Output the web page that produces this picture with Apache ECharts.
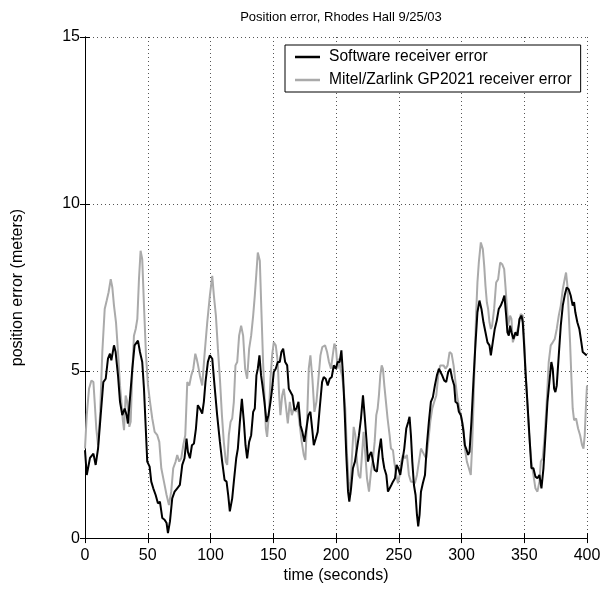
<!DOCTYPE html>
<html><head><meta charset="utf-8">
<script src="https://cdn.jsdelivr.net/npm/echarts@6/dist/echarts.min.js"></script>
<style>html,body{margin:0;padding:0;background:#fff}#c{width:612px;height:589px}</style>
</head><body><div id="c"></div>
<script>
const titleText = 'Position error, Rhodes Hall 9/25/03';
const xName = 'time (seconds)';
const yName = 'position error (meters)';
const seriesNames = ['Software receiver error', 'Mitel/Zarlink GP2021 receiver error'];
const xTicks = [0, 50, 100, 150, 200, 250, 300, 350, 400];
const yTicks = [0, 5, 10, 15];

const softT = [0,1.4,4,6.7,8.5,10.4,12.5,14.6,16.5,18.3,19.9,21,23.1,24.4,26.3,27.9,29.7,31.6,33.2,34.2,35.8,37.7,39.5,42.2,43.8,45.6,47,48.3,49.6,51.5,52.8,54.4,56.3,58.1,59.7,61.6,63.4,65,66.1,67.7,69.5,71.4,73.5,75.6,77.5,79.3,80.9,82,83.6,85.2,86.8,88.4,89.9,91.5,
93.4,94.7,96,97.9,99.5,101.4,103.2,105.3,107.5,109.3,111.2,112.8,114.1,115.4,117.3,118.6,120.5,121.8,123.4,125,126.6,127.9,129.2,130.8,132.4,134,135.3,136.6,137.7,139,140.3,141.4,143,144.6,146.2,147.8,149.1,150.4,152,153.6,155.2,156.5,157.9,159.5,161.1,162.4,163.7,165.3,166.9,168.5,170.1,171.7,173.2,174.8,176.4,178,179.6,181,182.3,183.9,185.4,187,
188.9,190.2,191.8,193.4,195,196.6,198.2,199.8,201.3,202.9,204.3,205.6,206.9,208.2,209.6,210.6,212,213.5,215.1,216.7,218.3,219.9,221.5,222.8,224.2,225.5,226.8,228.1,229.5,230.8,232.6,234.2,235.8,237.2,238.5,240.1,241.4,242.7,244.1,245.4,247,248.3,249.6,251.2,252.8,254.4,256,257.6,258.6,259.7,260.8,262.1,263.4,264.5,265.5,266.6,267.7,269.2,270.9,272.4,274,275.6,277.2,278.8,280.4,282,
284.6,286.2,287.8,289.4,291,292.6,294.2,295.2,296.8,297.9,299.5,300.5,301.6,302.7,303.7,305.3,306.4,307.9,309.6,311.2,312.7,314.3,315.9,317.5,319.1,320.7,322.3,323.4,324.9,326.5,328.1,329.7,331.3,332.9,334.2,335.6,336.6,337.7,338.7,339.8,341.4,343,344.6,346.2,347.8,348.8,349.9,351,352.5,354.1,355.7,357.3,358.9,360.5,362.1,363.7,365.3,366.9,368.5,370,371.6,372.7,373.8,374.8,375.9,377.5,379.1,380.7,382.2,383.8,385.4,387,388.6,389.7,390.7,392.3,393.9,395.5,396.6,398.2,399.8];
const softV = [2.63,1.89,2.4,2.53,2.19,2.68,3.68,4.67,4.77,5.37,5.52,5.32,5.77,5.57,4.87,4.08,3.68,3.88,3.68,3.43,4.17,5.07,5.77,5.91,5.57,5.27,4.47,3.38,2.29,2.14,1.69,1.49,1.29,1.04,1.09,0.6,0.55,0.45,0.15,0.5,1.19,1.39,1.49,1.59,2.19,2.39,2.98,2.58,2.39,2.78,2.83,3.28,3.98,3.88,
3.73,4.08,4.67,5.27,5.47,5.37,4.57,3.68,2.88,2.29,1.74,1.69,1.29,0.8,1.19,1.69,2.39,2.68,3.48,4.17,3.48,2.78,2.39,2.88,3.08,3.78,3.88,4.87,5.07,5.47,4.87,4.57,4.08,3.48,3.68,4.08,4.47,4.97,5.07,5.27,5.27,5.57,5.67,5.27,5.17,4.47,4.47,4.27,3.83,3.88,4.08,3.38,3.18,2.88,3.28,3.68,3.78,3.28,2.78,2.98,3.18,3.88,
4.67,4.82,4.77,4.57,4.77,4.82,5.17,5.07,5.27,5.27,5.62,4.87,3.78,2.49,1.39,1.09,1.49,2.09,2.29,2.68,3.08,3.58,4.27,3.68,2.98,2.29,2.49,2.58,2.29,2.04,1.99,2.58,2.98,2.39,2.09,1.89,1.39,1.34,1.59,1.69,1.79,2.19,2.09,1.89,2.29,2.68,3.28,3.48,3.63,3.08,2.29,1.59,1.29,0.7,0.35,0.7,1.39,1.64,1.89,2.78,3.48,4.08,4.22,4.57,4.87,5.07,
4.87,4.72,4.67,4.97,5.07,4.77,4.57,4.08,4.03,3.78,3.68,3.48,3.18,2.78,2.68,2.49,2.58,3.48,4.77,5.86,6.76,7.11,6.86,6.46,6.16,5.86,5.77,5.47,5.86,6.26,6.51,6.86,6.96,7.11,7.26,6.66,6.16,6.06,6.36,6.16,5.96,6.16,6.06,6.56,6.66,6.46,5.77,4.97,4.08,3.08,2.09,2.09,1.84,1.79,1.89,1.49,2.09,3.08,4.08,4.67,5.27,5.07,4.47,4.37,4.57,5.47,6.36,6.96,7.26,7.5,7.45,7.26,6.96,7.06,6.76,6.46,6.26,5.86,5.57,5.52,5.47];

const gpT = [0,1.4,3.2,5.1,6.7,7.7,9,10.4,12,13.8,15.7,17.3,18.8,20.5,21.8,23.1,24.7,26.3,27.9,29,30,31.1,32.4,33.7,35.3,36.4,37.7,39,40.4,41.7,43,44.3,45.6,47,48.6,50.2,51.8,53.6,55.5,57.6,59.2,60.8,62.9,65,66.9,68.7,70.3,72.2,73.5,75.1,76.7,78.3,79.9,81.5,83.1,84.7,86.3,87.9,89,90.1,91.5,
93.4,95.2,97.4,99.5,101.4,102.7,104.3,105.9,107.5,109.1,110.6,112.2,113.3,114.6,116,117.3,118.6,119.9,121.3,122.8,124.4,126,127.6,129.2,130.8,132.4,134,135.3,136.6,137.7,139.3,140.6,141.9,143,144.1,145.1,146.5,147.8,149.1,150.4,152,153.6,154.7,155.7,157.1,158.4,160,161.6,163.2,164.8,166.4,168,169.5,171.1,172.7,174.3,175.6,177,178.3,179.6,181.2,182.8,184.4,186,
187.6,189.1,191.3,192.9,194.4,196,197.4,198.7,200,201.3,202.4,203.5,204.8,206.1,207.4,208.8,210.1,211.4,212.5,214.1,215.4,216.7,218,219.4,220.7,222,223.4,224.7,226.3,227.9,229.5,230.8,232.1,233.2,234.2,235.3,236.4,237.4,238.5,239.8,241.1,242.7,243.8,245.4,246.4,248,249.4,250.7,252,253.3,254.9,256.5,258.1,259.7,261.3,262.9,264.5,266.1,267.7,268.7,270.3,271.9,273.5,275.1,276.7,278.3,279.9,281.5,
283,285.7,287.3,288.9,290.5,292.1,293.7,295.2,296.8,298.4,300,301.6,302.7,304.3,305.9,307.4,308.5,309.6,310.6,311.7,312.7,313.8,315.4,317,318.1,319.1,320.2,321.2,322.3,323.4,324.4,326,327.6,329.2,330.8,332.4,334,335,336.1,337.2,338.7,339.8,340.9,342.5,344,345.6,347.2,348.8,349.9,351,352.5,354.1,355.7,357.3,358.9,360.5,362.1,363.2,364.7,366.3,367.9,369.5,371.1,372.7,374.3,375.9,377.5,379.1,380.7,382.2,383.3,384.4,385.4,386.5,387.6,388.6,389.7,391.3,392.9,394.5,396.1,397.2,398.2,399.3,400];
const gpV = [2.68,3.68,4.47,4.72,4.67,4.08,3.28,2.78,3.68,5.57,6.86,7.11,7.36,7.75,7.5,6.96,6.46,5.57,4.57,4.08,3.58,3.23,4.27,4.08,3.33,3.48,4.97,6.06,6.26,6.56,7.75,8.6,8.35,6.96,5.47,4.57,4.08,3.58,3.18,3.08,2.88,2.09,1.69,1.29,0.99,1.39,2.09,2.29,2.49,2.29,2.39,2.78,3.08,4.67,4.57,4.87,5.07,5.52,5.37,5.17,4.87,
4.57,5.47,6.46,7.26,7.85,7.26,6.66,5.67,4.77,3.68,2.88,2.29,2.19,3.08,3.48,3.58,4.08,5.17,5.27,6.06,6.36,6.06,5.07,4.77,5.67,6.06,6.66,7.26,7.95,8.55,8.3,6.76,5.27,4.27,3.28,3.03,3.68,4.77,5.47,5.86,5.77,5.27,4.27,3.68,4.27,4.47,3.98,3.43,4.08,3.68,3.88,3.78,3.88,3.38,2.88,2.49,2.34,3.58,5.07,5.47,4.77,3.78,4.08,4.77,
5.47,5.72,5.77,5.57,5.27,5.07,5.47,5.82,5.67,5.07,5.37,5.07,4.87,4.47,3.88,2.49,1.69,1.29,2.29,3.33,3.08,2.29,1.89,1.79,2.49,3.18,2.49,1.79,1.39,1.99,2.39,2.88,3.68,3.88,4.27,4.87,5.17,5.07,4.57,4.08,3.58,3.08,2.68,2.63,2.29,1.89,1.64,1.89,2.29,2.49,2.39,2.49,1.89,1.69,1.69,1.64,1.89,2.29,2.68,2.73,2.49,2.39,2.88,3.48,3.88,4.08,4.27,4.87,
5.17,5.17,5.07,5.17,5.57,5.52,5.17,4.67,4.17,3.88,3.58,3.28,2.68,2.29,2.09,1.89,2.78,4.08,5.47,6.76,7.65,8.25,8.85,8.65,8.15,7.55,7.06,6.86,6.46,6.26,6.36,6.86,7.65,7.75,8.25,8.2,8.05,7.55,6.96,6.36,6.66,6.56,5.86,6.06,6.16,6.36,6.71,6.66,5.96,5.07,3.98,2.98,2.29,1.89,1.49,1.39,1.69,2.29,2.39,3.08,4.08,5.27,5.77,5.86,5.96,6.26,6.66,6.96,7.45,7.75,7.95,7.55,6.76,5.86,4.77,3.88,3.53,3.58,3.28,3.08,2.78,2.68,3.08,4.08,4.57];

const pairs = (t, v) => t.map((x, i) => [x, v[i]]);
const FONT = 'Liberation Sans, Arial, sans-serif';
const chart = echarts.init(document.getElementById('c'), null, {renderer: 'canvas'});
const gridLine = {show: true, lineStyle: {color: '#555', type: [1, 3], width: 1}};
const axLine = {show: true, lineStyle: {color: '#000', width: 1}};
const tick = {show: true, inside: true, length: 5, lineStyle: {color: '#000'}};
chart.setOption({
  animation: false,
  backgroundColor: '#fff',
  title: {text: titleText, left: 336, top: 6, textAlign: 'center',
    textStyle: {fontFamily: FONT, fontSize: 13, fontWeight: 'normal', color: '#000'}},
  legend: {
    data: seriesNames, orient: 'vertical', left: 285, top: 45,
    backgroundColor: '#fff', borderColor: '#000', borderWidth: 1, borderRadius: 0,
    padding: [4, 9, 4, 10], itemGap: 7, itemWidth: 25, itemHeight: 2.5,
    icon: 'rect',
    textStyle: {fontFamily: FONT, fontSize: 15.6, color: '#000', padding: [0, 0, 0, 4]}
  },
  grid: {left: 85, right: 25, top: 37, bottom: 48, containLabel: false},
  xAxis: [{
    type: 'value', min: 0, max: 400, interval: 50,
    name: xName, nameLocation: 'middle', nameGap: 28,
    nameTextStyle: {fontFamily: FONT, fontSize: 16, color: '#000'},
    axisLine: axLine, axisTick: tick,
    axisLabel: {fontFamily: FONT, fontSize: 16, color: '#000', margin: 9, customValues: xTicks},
    splitLine: gridLine
  }, {
    type: 'value', min: 0, max: 400, interval: 50, position: 'top',
    axisLine: axLine, axisTick: tick, axisLabel: {show: false}, splitLine: {show: false}
  }],
  yAxis: [{
    type: 'value', min: 0, max: 15, interval: 5,
    name: yName, nameLocation: 'middle', nameGap: 59, nameRotate: 90,
    nameTextStyle: {fontFamily: FONT, fontSize: 16, color: '#000'},
    axisLine: axLine, axisTick: tick,
    axisLabel: {fontFamily: FONT, fontSize: 16, color: '#000', margin: 5, customValues: yTicks},
    splitLine: gridLine
  }, {
    type: 'value', min: 0, max: 15, interval: 5, position: 'right',
    axisLine: axLine, axisTick: tick, axisLabel: {show: false}, splitLine: {show: false}
  }],
  series: [
    {name: seriesNames[1], type: 'line', data: pairs(gpT, gpV), showSymbol: false,
      lineStyle: {color: '#aaaaaa', width: 2}, itemStyle: {color: '#aaaaaa'}, z: 2},
    {name: seriesNames[0], type: 'line', data: pairs(softT, softV), showSymbol: false,
      lineStyle: {color: '#000', width: 2}, itemStyle: {color: '#000'}, z: 3}
  ]
});
</script></body></html>
